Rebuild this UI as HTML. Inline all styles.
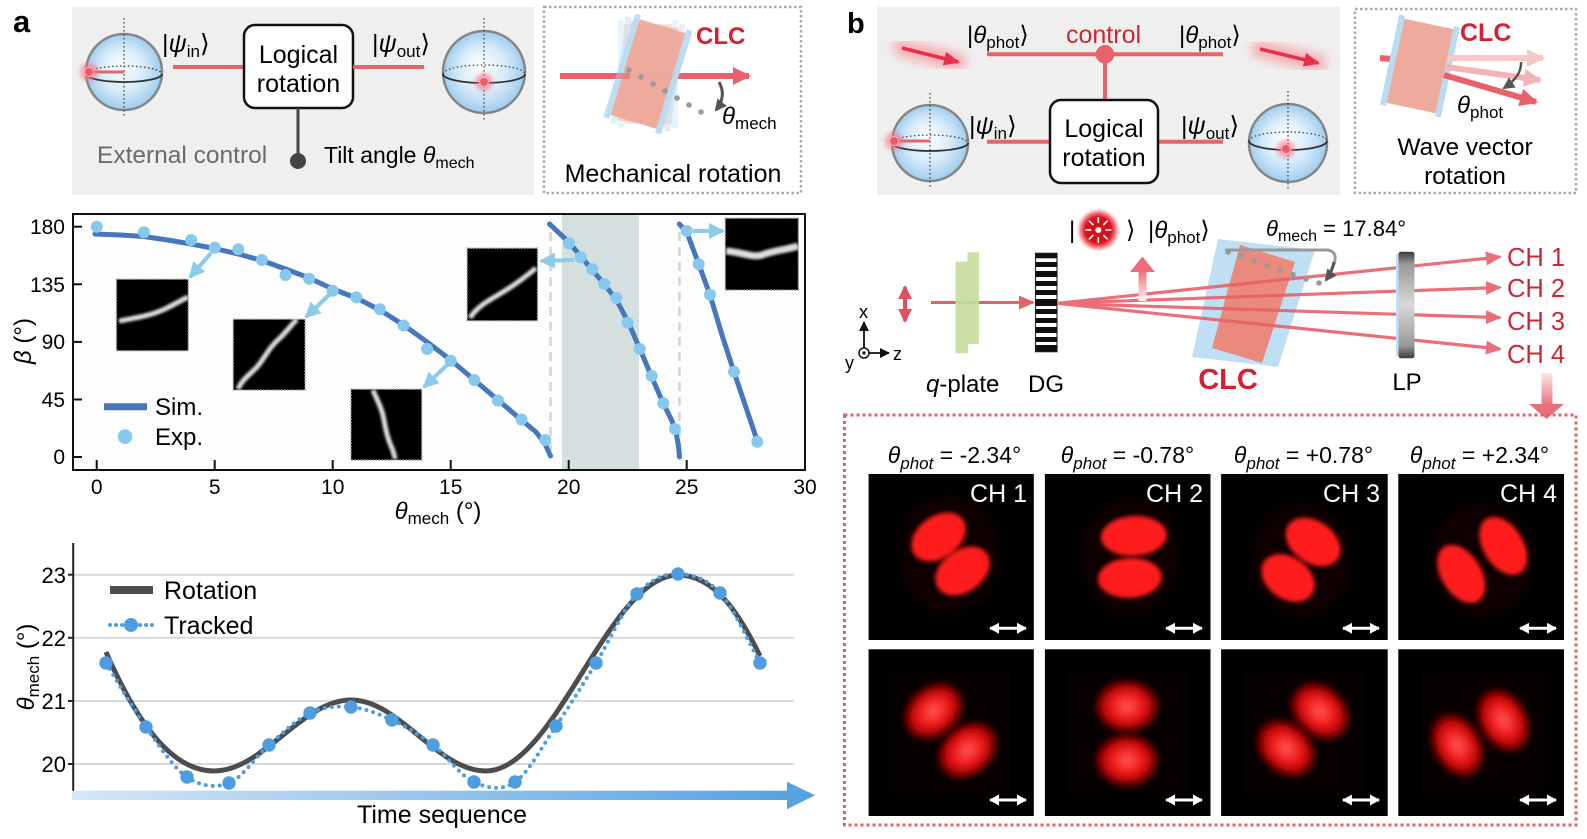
<!DOCTYPE html>
<html><head><meta charset="utf-8">
<style>
html,body{margin:0;padding:0;background:#fff;}
svg{display:block;font-family:"Liberation Sans","DejaVu Sans",sans-serif;}
</style></head><body>
<svg width="1587" height="839" viewBox="0 0 1587 839" xmlns="http://www.w3.org/2000/svg">
<defs>
 <radialGradient id="sph" cx="50%" cy="50%" r="50%" fx="45%" fy="42%">
  <stop offset="0" stop-color="#ffffff"/>
  <stop offset="0.55" stop-color="#d9ecfa"/>
  <stop offset="1" stop-color="#9ecdef"/>
 </radialGradient>
 <radialGradient id="lobeS" cx="50%" cy="50%" r="50%">
  <stop offset="0" stop-color="#ff5a5a"/>
  <stop offset="0.45" stop-color="#f01818"/>
  <stop offset="0.8" stop-color="#9a0000"/>
  <stop offset="1" stop-color="#200000" stop-opacity="0"/>
 </radialGradient>
 <radialGradient id="sun" cx="50%" cy="50%" r="50%">
  <stop offset="0" stop-color="#ff6060"/>
  <stop offset="0.6" stop-color="#e0101c"/>
  <stop offset="0.8" stop-color="#e83040" stop-opacity="0.6"/>
  <stop offset="1" stop-color="#ff8080" stop-opacity="0"/>
 </radialGradient>
 <filter id="b1" x="-50%" y="-50%" width="200%" height="200%"><feGaussianBlur stdDeviation="1.2"/></filter>
 <filter id="b2" x="-50%" y="-50%" width="200%" height="200%"><feGaussianBlur stdDeviation="2"/></filter>
 <filter id="b3" x="-50%" y="-50%" width="200%" height="200%"><feGaussianBlur stdDeviation="3.5"/></filter>
 <filter id="b5" x="-50%" y="-50%" width="200%" height="200%"><feGaussianBlur stdDeviation="5"/></filter>
 <linearGradient id="tarr" x1="0" y1="0" x2="1" y2="0">
  <stop offset="0" stop-color="#d4e8f8"/>
  <stop offset="1" stop-color="#58a2e2"/>
 </linearGradient>
 <linearGradient id="lp" x1="0" y1="0" x2="0" y2="1">
  <stop offset="0" stop-color="#3c3c3c"/>
  <stop offset="0.12" stop-color="#9a9a9a"/>
  <stop offset="0.5" stop-color="#d8d8d8"/>
  <stop offset="0.88" stop-color="#9a9a9a"/>
  <stop offset="1" stop-color="#3c3c3c"/>
 </linearGradient>
 <linearGradient id="down" x1="0" y1="0" x2="0" y2="1">
  <stop offset="0" stop-color="#fde6e8"/>
  <stop offset="1" stop-color="#e8707a"/>
 </linearGradient>
 <linearGradient id="up" x1="0" y1="1" x2="0" y2="0">
  <stop offset="0" stop-color="#fff0f0"/>
  <stop offset="1" stop-color="#ee6c76"/>
 </linearGradient>
 <marker id="mRed" markerUnits="userSpaceOnUse" markerWidth="16" markerHeight="14" refX="14" refY="7" orient="auto"><path d="M0,0 L16,7 L0,14 z" fill="#e8606a"/></marker>
 <marker id="mRedB" markerUnits="userSpaceOnUse" markerWidth="18" markerHeight="18" refX="16" refY="9" orient="auto"><path d="M0,0 L18,9 L0,18 z" fill="#e8606a"/></marker>
 <marker id="mPink" markerUnits="userSpaceOnUse" markerWidth="18" markerHeight="18" refX="16" refY="9" orient="auto"><path d="M0,0 L18,9 L0,18 z" fill="#f7c6c8"/></marker>
 <marker id="mPink2" markerUnits="userSpaceOnUse" markerWidth="18" markerHeight="18" refX="16" refY="9" orient="auto"><path d="M0,0 L18,9 L0,18 z" fill="#f3b4b8"/></marker>
 <marker id="mGlow" markerUnits="userSpaceOnUse" markerWidth="16" markerHeight="14" refX="14" refY="7" orient="auto"><path d="M0,0 L16,7 L0,14 z" fill="#e8304a"/></marker>
 <marker id="mBlue" markerUnits="userSpaceOnUse" markerWidth="16" markerHeight="16" refX="14" refY="8" orient="auto"><path d="M0,0 L16,8 L0,16 z" fill="#8ccbec"/></marker>
 <marker id="mGray" markerUnits="userSpaceOnUse" markerWidth="12" markerHeight="12" refX="10" refY="6" orient="auto"><path d="M0,0 L12,6 L0,12 z" fill="#555"/></marker>
 <marker id="mBlk" markerUnits="userSpaceOnUse" markerWidth="10" markerHeight="10" refX="9" refY="5" orient="auto"><path d="M0,0 L10,5 L0,10 z" fill="#111"/></marker>
 <marker id="mWhite" markerUnits="userSpaceOnUse" markerWidth="10" markerHeight="11" refX="9" refY="5.5" orient="auto"><path d="M0,0 L10,5.5 L0,11 z" fill="#fff"/></marker>
 <marker id="mWhiteS" markerUnits="userSpaceOnUse" markerWidth="10" markerHeight="11" refX="9" refY="5.5" orient="auto-start-reverse"><path d="M0,0 L10,5.5 L0,11 z" fill="#fff"/></marker>
 <marker id="mPol" markerUnits="userSpaceOnUse" markerWidth="14" markerHeight="14" refX="12" refY="7" orient="auto-start-reverse"><path d="M0,0 L14,7 L0,14 z" fill="#e0505e"/></marker>
</defs>

<!-- ================= PANEL A TOP ================= -->
<text x="13" y="32" font-size="31" font-weight="bold">a</text>
<rect x="72" y="7" width="462" height="188" fill="#efefef"/>

<g transform="translate(124,72)">
 <circle r="38" fill="url(#sph)" stroke="#858585" stroke-width="2.5"/>
 <line x1="0" y1="-54" x2="0" y2="46" stroke="#444" stroke-width="1.3" stroke-dasharray="1.5 2.5"/>
 <path d="M-38,2 A38,8 0 0 1 38,2" fill="none" stroke="#444" stroke-width="1.3" stroke-dasharray="1.5 2.5"/>
 <path d="M-38,2 A38,8 0 0 0 38,2" fill="none" stroke="#333" stroke-width="1.8"/>
 <line x1="-34" y1="0" x2="0" y2="0" stroke="#e5636b" stroke-width="3"/>
 <circle cx="-35" cy="0" r="9" fill="#ff7080" opacity="0.6" filter="url(#b2)"/>
 <circle cx="-35" cy="0" r="4.5" fill="#f05a64" stroke="#ffb4b8" stroke-width="1"/>
</g>
<text x="162" y="52" font-size="25">|<tspan font-style="italic">ψ</tspan><tspan font-size="17" dy="5">in</tspan><tspan dy="-5">⟩</tspan></text>
<line x1="173" y1="67" x2="244" y2="67" stroke="#e5636b" stroke-width="4"/>
<rect x="244" y="25" width="109" height="83" rx="11" fill="#fff" stroke="#111" stroke-width="2.5"/>
<text x="298.5" y="63" font-size="25" text-anchor="middle">Logical</text>
<text x="298.5" y="92" font-size="25" text-anchor="middle">rotation</text>
<line x1="353" y1="67" x2="424" y2="67" stroke="#e5636b" stroke-width="4"/>
<text x="372" y="52" font-size="25">|<tspan font-style="italic">ψ</tspan><tspan font-size="17" dy="5">out</tspan><tspan dy="-5">⟩</tspan></text>
<g transform="translate(484,72)">
 <circle r="41" fill="url(#sph)" stroke="#858585" stroke-width="2.5"/>
 <line x1="0" y1="-54" x2="0" y2="48" stroke="#444" stroke-width="1.3" stroke-dasharray="1.5 2.5"/>
 <path d="M-41,2 A41,9 0 0 1 41,2" fill="none" stroke="#444" stroke-width="1.3" stroke-dasharray="1.5 2.5"/>
 <path d="M-41,2 A41,9 0 0 0 41,2" fill="none" stroke="#333" stroke-width="1.8"/>
 <circle cx="0" cy="10" r="9" fill="#ff7080" opacity="0.6" filter="url(#b2)"/>
 <circle cx="0" cy="10" r="4.5" fill="#f05a64" stroke="#ffb4b8" stroke-width="1"/>
</g>
<line x1="298" y1="108" x2="298" y2="160" stroke="#444" stroke-width="3"/>
<circle cx="298" cy="161" r="8" fill="#444"/>
<text x="97" y="163" font-size="24.5" fill="#6a6a6a">External control</text>
<text x="324" y="163" font-size="23">Tilt angle <tspan font-style="italic">θ</tspan><tspan font-size="16" dy="5">mech</tspan></text>

<rect x="544" y="7" width="257" height="186" fill="none" stroke="#aaa" stroke-width="2.5" stroke-dasharray="2.5 2.5"/>
<line x1="560" y1="76" x2="749" y2="76" stroke="#e8606a" stroke-width="6" marker-end="url(#mRedB)"/>
<g transform="translate(648,74)">
 <g opacity="0.3">
  <rect x="-24" y="-50" width="48" height="100" fill="#f0a898"/>
  <rect x="-30" y="-54" width="6" height="108" fill="#b9dcf3"/>
  <rect x="24" y="-54" width="6" height="108" fill="#b9dcf3"/>
 </g>
 <g opacity="0.45" transform="rotate(8)">
  <rect x="-24" y="-50" width="48" height="100" fill="#f0a898"/>
  <rect x="-30" y="-54" width="6" height="108" fill="#b9dcf3"/>
  <rect x="24" y="-54" width="6" height="108" fill="#b9dcf3"/>
 </g>
 <g transform="rotate(17)" opacity="0.95">
  <rect x="-24" y="-50" width="48" height="100" fill="#eeaa9c"/>
  <rect x="-30" y="-54" width="6" height="108" fill="#b9dcf3"/>
  <rect x="24" y="-54" width="6" height="108" fill="#b9dcf3"/>
 </g>
</g>
<line x1="560" y1="76" x2="630" y2="76" stroke="#e8606a" stroke-width="6" opacity="0.6"/>
<g fill="#9a9a9a">
 <circle cx="629" cy="70" r="2.8"/><circle cx="641" cy="77" r="2.8"/><circle cx="653" cy="84" r="2.8"/>
 <circle cx="665" cy="91" r="2.8"/><circle cx="677" cy="98" r="2.8"/><circle cx="689" cy="105" r="2.8"/>
 <circle cx="701" cy="112" r="2.8"/>
</g>
<path d="M719,82 Q727,96 716,110" fill="none" stroke="#555" stroke-width="3" marker-end="url(#mGray)"/>
<text x="696" y="44" font-size="24" font-weight="bold" fill="#d42030">CLC</text>
<text x="722" y="124" font-size="24"><tspan font-style="italic">θ</tspan><tspan font-size="17" dy="5">mech</tspan></text>
<text x="673" y="182" font-size="25" text-anchor="middle">Mechanical rotation</text>

<!-- ================= PLOT 1 ================= -->
<rect x="73" y="214" width="732" height="256" fill="#fdfdfd"/>
<rect x="562" y="215" width="77" height="254" fill="#d4dfdf"/>
<line x1="550.5" y1="232" x2="550.5" y2="458" stroke="#d4d4d4" stroke-width="2.5" stroke-dasharray="9 6"/>
<line x1="679.5" y1="232" x2="679.5" y2="458" stroke="#d4d4d4" stroke-width="2.5" stroke-dasharray="9 6"/>
<rect x="73" y="214" width="732" height="256" fill="none" stroke="#111" stroke-width="2"/>
<g stroke="#111" stroke-width="2">
 <line x1="73" y1="226.7" x2="82" y2="226.7"/><line x1="73" y1="284.3" x2="82" y2="284.3"/>
 <line x1="73" y1="341.9" x2="82" y2="341.9"/><line x1="73" y1="399.5" x2="82" y2="399.5"/>
 <line x1="73" y1="457" x2="82" y2="457"/>
 <line x1="96.7" y1="470" x2="96.7" y2="460"/><line x1="214.7" y1="470" x2="214.7" y2="460"/>
 <line x1="332.7" y1="470" x2="332.7" y2="460"/><line x1="450.7" y1="470" x2="450.7" y2="460"/>
 <line x1="568.7" y1="470" x2="568.7" y2="460"/><line x1="686.7" y1="470" x2="686.7" y2="460"/>
</g>
<g font-size="21" text-anchor="end">
 <text x="65" y="234">180</text><text x="65" y="292">135</text><text x="65" y="349">90</text>
 <text x="65" y="407">45</text><text x="65" y="464">0</text>
</g>
<g font-size="21" text-anchor="middle">
 <text x="96.7" y="494">0</text><text x="214.7" y="494">5</text><text x="332.7" y="494">10</text>
 <text x="450.7" y="494">15</text><text x="568.7" y="494">20</text><text x="686.7" y="494">25</text>
 <text x="805" y="494">30</text>
</g>
<text x="438" y="519" font-size="24" text-anchor="middle"><tspan font-style="italic">θ</tspan><tspan font-size="17" dy="5">mech</tspan><tspan dy="-5"> (°)</tspan></text>
<text transform="translate(31,341) rotate(-90)" font-size="24" text-anchor="middle"><tspan font-style="italic">β</tspan> (°)</text>

<g fill="none" stroke="#4677bd" stroke-width="5" stroke-linejoin="round" stroke-linecap="round">
 <polyline points="95,234 120.3,235 143.9,236.5 167.5,240 191.1,244 214.7,248.5 238.3,254 261.9,260.5 285.5,269 309.1,278 332.7,289 356.3,298 379.9,310 403.5,325 427.1,342 450.7,360 474.3,380 497.9,400 521.5,420 536,432 545.1,444 550.5,456"/>
 <polyline points="549.5,224 568.7,242 580.5,256 592.3,270 604.1,284 615.9,299 627.7,321 639.5,348 651.3,376 663.1,403 672,421 676.5,435 678.5,446 679.5,457"/>
 <polyline points="679.3,224 686.7,232 698.7,264 710,295 722,335 734,372 745.5,406 757.3,441"/>
</g>
<g>
 <rect x="116.5" y="279.3" width="71.7" height="71.4" fill="#000" stroke="#999" stroke-width="1.5" stroke-dasharray="1.5 1.5"/>
 <path d="M119,321 C135,318 150,316 165,309 C175,304 182,300 188,297" fill="none" stroke="#ddd" stroke-width="5" filter="url(#b1)"/>
 <rect x="233.3" y="319.3" width="71.7" height="70.7" fill="#000" stroke="#999" stroke-width="1.5" stroke-dasharray="1.5 1.5"/>
 <path d="M238,389 C242,380 248,376 256,368 C264,360 268,348 280,338 C288,330 292,324 297,319.5" fill="none" stroke="#ddd" stroke-width="5" filter="url(#b1)"/>
 <rect x="351" y="389.3" width="70.7" height="70.7" fill="#000" stroke="#999" stroke-width="1.5" stroke-dasharray="1.5 1.5"/>
 <path d="M373,390 C377,400 382,408 384,420 C386,432 388,440 392,448 C394,454 395,458 395,459" fill="none" stroke="#ddd" stroke-width="5" filter="url(#b1)"/>
 <rect x="467.2" y="248.3" width="70.3" height="72.4" fill="#000" stroke="#999" stroke-width="1.5" stroke-dasharray="1.5 1.5"/>
 <path d="M470,318 C476,308 486,302 498,295 C510,288 522,280 536,268" fill="none" stroke="#ddd" stroke-width="5" filter="url(#b1)"/>
 <rect x="725.3" y="218.3" width="73" height="71.7" fill="#000" stroke="#999" stroke-width="1.5" stroke-dasharray="1.5 1.5"/>
 <path d="M726,251 C742,252 752,258 762,255 C775,250 786,250 798,246" fill="none" stroke="#ddd" stroke-width="7" filter="url(#b1)"/>
</g>
<g stroke="#8ccbec" stroke-width="4" fill="none">
 <line x1="211" y1="253" x2="190" y2="277" marker-end="url(#mBlue)"/>
 <line x1="329" y1="295" x2="306" y2="317" marker-end="url(#mBlue)"/>
 <line x1="447" y1="365" x2="424" y2="387" marker-end="url(#mBlue)"/>
 <line x1="574" y1="260" x2="541" y2="261" marker-end="url(#mBlue)"/>
 <line x1="693" y1="231" x2="723" y2="231" marker-end="url(#mBlue)"/>
</g>
<g fill="#87c9ec">
 <circle cx="96.7" cy="226.7" r="6"/><circle cx="143.9" cy="232.3" r="6"/><circle cx="191.1" cy="240" r="6"/>
 <circle cx="214.7" cy="247.7" r="6"/><circle cx="238.3" cy="249.3" r="6"/><circle cx="261.9" cy="260" r="6"/>
 <circle cx="285.5" cy="275" r="6"/><circle cx="309.1" cy="278.7" r="6"/><circle cx="332.7" cy="290.7" r="6"/>
 <circle cx="356.3" cy="297.3" r="6"/><circle cx="379.9" cy="309.3" r="6"/><circle cx="403.5" cy="325.5" r="6"/>
 <circle cx="427.1" cy="349" r="6"/><circle cx="450.7" cy="360.7" r="6"/><circle cx="474.3" cy="380" r="6"/>
 <circle cx="497.9" cy="400.5" r="6"/><circle cx="521.5" cy="419.5" r="6"/><circle cx="545.3" cy="440" r="6"/>
 <circle cx="569" cy="243.3" r="6"/><circle cx="580.7" cy="257.3" r="6"/><circle cx="592.3" cy="269.3" r="6"/>
 <circle cx="604.3" cy="284" r="6"/><circle cx="616.3" cy="298" r="6"/><circle cx="627.7" cy="322.7" r="6"/>
 <circle cx="639.7" cy="349" r="6"/><circle cx="651.7" cy="376" r="6"/><circle cx="663.3" cy="403.3" r="6"/>
 <circle cx="675" cy="429" r="6"/>
 <circle cx="686.7" cy="231" r="6"/><circle cx="698.7" cy="264.3" r="6"/><circle cx="710" cy="294.7" r="6"/>
 <circle cx="734" cy="371.7" r="6"/><circle cx="757.3" cy="441.7" r="6"/>
</g>
<line x1="104" y1="406.7" x2="147" y2="406.7" stroke="#4677bd" stroke-width="7"/>
<text x="155" y="415" font-size="24">Sim.</text>
<circle cx="125" cy="436.7" r="7.3" fill="#87c9ec"/>
<text x="155" y="445" font-size="24">Exp.</text>

<!-- ================= PLOT 2 ================= -->
<g stroke="#d9d9d9" stroke-width="2">
 <line x1="74" y1="574.7" x2="794" y2="574.7"/><line x1="74" y1="637.8" x2="794" y2="637.8"/>
 <line x1="74" y1="701" x2="794" y2="701"/><line x1="74" y1="764" x2="794" y2="764"/>
</g>
<line x1="73.2" y1="543" x2="73.2" y2="791" stroke="#222" stroke-width="2"/>
<g stroke="#222" stroke-width="2">
 <line x1="68" y1="574.7" x2="73" y2="574.7"/><line x1="68" y1="637.8" x2="73" y2="637.8"/>
 <line x1="68" y1="701" x2="73" y2="701"/><line x1="68" y1="764" x2="73" y2="764"/>
</g>
<g font-size="22" text-anchor="end">
 <text x="66" y="583">23</text><text x="66" y="646">22</text><text x="66" y="709">21</text><text x="66" y="772">20</text>
</g>
<text transform="translate(34,667) rotate(-90)" font-size="24" text-anchor="middle"><tspan font-style="italic">θ</tspan><tspan font-size="17" dy="5">mech</tspan><tspan dy="-5"> (°)</tspan></text>
<path d="M106,652 C140,730 175,771 214,771 C263,771 302,700 351,700 C400,700 437,771 486,771 C555,771 609,575 678,575 C715,575 740,615 760,656" fill="none" stroke="#4d4d4d" stroke-width="5"/>
<path d="M106,663 C112.7,673.7 132.5,708 146,727 C159.5,746 173.2,767.7 187,777 C200.8,786.3 215.3,788.3 229,783 C242.7,777.7 255.5,756.7 269,745 C282.5,733.3 296.3,719.3 310,713 C323.7,706.7 337.3,705.8 351,707 C364.7,708.2 378.3,713.7 392,720 C405.7,726.3 419.3,734.7 433,745 C446.7,755.3 460.3,775.8 474,782 C487.7,788.2 501.3,791.3 515,782 C528.7,772.7 542.5,745.8 556,726 C569.5,706.2 582.5,685 596,663 C609.5,641 623.3,608.8 637,594 C650.7,579.2 664.2,573.8 678,574 C691.8,574.2 706.3,578.2 720,593 C733.7,607.8 753.3,651.3 760,663" fill="none" stroke="#4d9de0" stroke-width="4" stroke-dasharray="0 7" stroke-linecap="round"/>
<g fill="#4d9de0">
 <circle cx="106" cy="663" r="6.7"/><circle cx="146" cy="727" r="6.7"/><circle cx="187" cy="777" r="6.7"/>
 <circle cx="229" cy="783" r="6.7"/><circle cx="269" cy="745" r="6.7"/><circle cx="310" cy="713" r="6.7"/>
 <circle cx="351" cy="707" r="6.7"/><circle cx="392" cy="720" r="6.7"/><circle cx="433" cy="745" r="6.7"/>
 <circle cx="474" cy="782" r="6.7"/><circle cx="515" cy="782" r="6.7"/><circle cx="556" cy="726" r="6.7"/>
 <circle cx="596" cy="663" r="6.7"/><circle cx="637" cy="594" r="6.7"/><circle cx="678" cy="574" r="6.7"/>
 <circle cx="720" cy="593" r="6.7"/><circle cx="760" cy="663" r="6.7"/>
</g>
<line x1="110" y1="590" x2="153" y2="590" stroke="#4d4d4d" stroke-width="8"/>
<text x="164" y="599" font-size="25">Rotation</text>
<line x1="110" y1="625" x2="153" y2="625" stroke="#4d9de0" stroke-width="4" stroke-dasharray="0 6" stroke-linecap="round"/>
<circle cx="131" cy="625" r="7" fill="#4d9de0"/>
<text x="164" y="634" font-size="25">Tracked</text>
<rect x="72" y="790.7" width="716" height="9.3" fill="url(#tarr)"/>
<polygon points="787,781.7 815,795.3 787,809.3" fill="#58a2e2"/>
<text x="442" y="823" font-size="25" text-anchor="middle">Time sequence</text>

<!-- ================= PANEL B TOP ================= -->
<text x="847" y="33" font-size="29" font-weight="bold">b</text>
<rect x="877" y="7" width="463" height="188" fill="#efefef"/>
<line x1="902" y1="48" x2="958" y2="62" stroke="#ff7a86" stroke-width="18" opacity="0.55" filter="url(#b5)" stroke-linecap="round"/>
<line x1="902" y1="48" x2="958" y2="62" stroke="#e8304a" stroke-width="3.5" marker-end="url(#mGlow)"/>
<line x1="1260" y1="49" x2="1318" y2="63" stroke="#ff7a86" stroke-width="18" opacity="0.55" filter="url(#b5)" stroke-linecap="round"/>
<line x1="1260" y1="49" x2="1318" y2="63" stroke="#e8304a" stroke-width="3.5" marker-end="url(#mGlow)"/>
<line x1="987" y1="54.3" x2="1223" y2="54.3" stroke="#e5636b" stroke-width="4"/>
<line x1="1105" y1="54.3" x2="1105" y2="100" stroke="#e5636b" stroke-width="4"/>
<circle cx="1105" cy="54.3" r="9.3" fill="#e5636b"/>
<line x1="987" y1="141.7" x2="1050" y2="141.7" stroke="#e5636b" stroke-width="4"/>
<line x1="1158" y1="141.7" x2="1223" y2="141.7" stroke="#e5636b" stroke-width="4"/>
<text x="967" y="43" font-size="24">|<tspan font-style="italic">θ</tspan><tspan font-size="17" dy="5">phot</tspan><tspan dy="-5">⟩</tspan></text>
<text x="1066" y="43" font-size="25" fill="#c92836">control</text>
<text x="1179" y="43" font-size="24">|<tspan font-style="italic">θ</tspan><tspan font-size="17" dy="5">phot</tspan><tspan dy="-5">⟩</tspan></text>
<rect x="1050" y="100" width="108" height="83" rx="11" fill="#fff" stroke="#111" stroke-width="2.5"/>
<text x="1104" y="137" font-size="25" text-anchor="middle">Logical</text>
<text x="1104" y="166" font-size="25" text-anchor="middle">rotation</text>
<text x="969" y="134" font-size="25">|<tspan font-style="italic">ψ</tspan><tspan font-size="17" dy="5">in</tspan><tspan dy="-5">⟩</tspan></text>
<text x="1181" y="134" font-size="25">|<tspan font-style="italic">ψ</tspan><tspan font-size="17" dy="5">out</tspan><tspan dy="-5">⟩</tspan></text>
<g transform="translate(930,143)">
 <circle r="38" fill="url(#sph)" stroke="#858585" stroke-width="2.5"/>
 <line x1="0" y1="-50" x2="0" y2="46" stroke="#444" stroke-width="1.3" stroke-dasharray="1.5 2.5"/>
 <path d="M-38,0 A38,8 0 0 1 38,0" fill="none" stroke="#444" stroke-width="1.3" stroke-dasharray="1.5 2.5"/>
 <path d="M-38,0 A38,8 0 0 0 38,0" fill="none" stroke="#333" stroke-width="1.8"/>
 <line x1="-35" y1="-2" x2="0" y2="-2" stroke="#e5636b" stroke-width="3"/>
 <circle cx="-36" cy="-2" r="9" fill="#ff7080" opacity="0.6" filter="url(#b2)"/>
 <circle cx="-36" cy="-2" r="4.5" fill="#f05a64" stroke="#ffb4b8" stroke-width="1"/>
</g>
<g transform="translate(1288,143)">
 <circle r="39" fill="url(#sph)" stroke="#858585" stroke-width="2.5"/>
 <line x1="0" y1="-52" x2="0" y2="46" stroke="#444" stroke-width="1.3" stroke-dasharray="1.5 2.5"/>
 <path d="M-39,-2 A39,9 0 0 1 39,-2" fill="none" stroke="#444" stroke-width="1.3" stroke-dasharray="1.5 2.5"/>
 <path d="M-39,-2 A39,9 0 0 0 39,-2" fill="none" stroke="#333" stroke-width="1.8"/>
 <circle cx="-2" cy="6" r="9" fill="#ff7080" opacity="0.6" filter="url(#b2)"/>
 <circle cx="-2" cy="6" r="4.5" fill="#f05a64" stroke="#ffb4b8" stroke-width="1"/>
</g>

<rect x="1355" y="9" width="221" height="184" fill="none" stroke="#aaa" stroke-width="2.5" stroke-dasharray="2.5 2.5"/>
<line x1="1380" y1="58" x2="1412" y2="61" stroke="#e8606a" stroke-width="6"/>
<g transform="translate(1420,66) rotate(12)">
 <rect x="-25" y="-43" width="50" height="86" fill="#eeaa9c"/>
 <rect x="-31" y="-46" width="6" height="92" fill="#b9dcf3"/>
 <rect x="25" y="-46" width="6" height="92" fill="#b9dcf3"/>
</g>
<line x1="1448" y1="58" x2="1543" y2="58" stroke="#f7c6c8" stroke-width="6" marker-end="url(#mPink)"/>
<line x1="1446" y1="67" x2="1540" y2="80" stroke="#f3b4b8" stroke-width="6" marker-end="url(#mPink2)"/>
<line x1="1444" y1="75" x2="1536" y2="102" stroke="#e8606a" stroke-width="6" marker-end="url(#mRedB)"/>
<path d="M1521,62 Q1522,76 1504,88" fill="none" stroke="#555" stroke-width="2.5" marker-end="url(#mGray)"/>
<text x="1460" y="41" font-size="25" font-weight="bold" fill="#d42030">CLC</text>
<text x="1457" y="113" font-size="24"><tspan font-style="italic">θ</tspan><tspan font-size="17" dy="5">phot</tspan></text>
<text x="1465" y="155" font-size="24.5" text-anchor="middle">Wave vector</text>
<text x="1465" y="184" font-size="24.5" text-anchor="middle">rotation</text>

<!-- ================= PANEL B MIDDLE ================= -->
<line x1="864" y1="348" x2="864" y2="322" stroke="#111" stroke-width="1.8" marker-end="url(#mBlk)"/>
<line x1="869" y1="353" x2="889" y2="353" stroke="#111" stroke-width="1.8" marker-end="url(#mBlk)"/>
<circle cx="864" cy="353" r="5" fill="#fff" stroke="#111" stroke-width="1.5"/>
<circle cx="864" cy="353" r="1.6" fill="#111"/>
<text x="859" y="318" font-size="18">x</text>
<text x="893" y="360" font-size="18">z</text>
<text x="845" y="369" font-size="18">y</text>
<line x1="905" y1="287" x2="905" y2="321" stroke="#e0505e" stroke-width="4" marker-start="url(#mPol)" marker-end="url(#mPol)"/>
<line x1="931" y1="302.5" x2="1033" y2="302.5" stroke="#e8606a" stroke-width="3" marker-end="url(#mRed)"/>
<rect x="955.5" y="261.7" width="12.5" height="91.6" fill="#c6dd9c" opacity="0.9"/>
<rect x="967.5" y="252.3" width="11.5" height="91.7" fill="#c6dd9c" opacity="0.9"/>
<rect x="1035.5" y="253.3" width="21.5" height="98.4" fill="#fff" stroke="#333" stroke-width="1.2"/>
<g fill="#111">
 <rect x="1035.5" y="253.3" width="21.5" height="5"/><rect x="1035.5" y="262" width="21.5" height="5"/>
 <rect x="1035.5" y="271" width="21.5" height="6"/><rect x="1035.5" y="281" width="21.5" height="5"/>
 <rect x="1035.5" y="290" width="21.5" height="5"/><rect x="1035.5" y="299" width="21.5" height="7"/>
 <rect x="1035.5" y="309" width="21.5" height="5"/><rect x="1035.5" y="318" width="21.5" height="5"/>
 <rect x="1035.5" y="327" width="21.5" height="6"/><rect x="1035.5" y="337" width="21.5" height="5"/>
 <rect x="1035.5" y="345" width="21.5" height="6.7"/>
</g>
<polygon points="1218,239 1315,250 1278,367 1192,357" fill="#bfe0f4"/>
<polygon points="1240,245 1295,262 1262,363 1212,348" fill="#ea8a7c"/>
<g stroke="#e8606a" stroke-width="3.2" fill="none" opacity="0.9">
 <line x1="1057" y1="303.3" x2="1500" y2="256.9" marker-end="url(#mRed)"/>
 <line x1="1057" y1="303.3" x2="1500" y2="287.5" marker-end="url(#mRed)"/>
 <line x1="1057" y1="303.3" x2="1500" y2="317.6" marker-end="url(#mRed)"/>
 <line x1="1057" y1="303.3" x2="1500" y2="349" marker-end="url(#mRed)"/>
</g>
<path d="M1225,250 L1328,250 Q1338,252 1334,264 Q1331,272 1326,279" fill="none" stroke="#999" stroke-width="3"/>
<path d="M1334,262 Q1332,272 1326,280" fill="none" stroke="#555" stroke-width="3" marker-end="url(#mGray)"/>
<g fill="#999">
 <circle cx="1228" cy="252" r="2.8"/><circle cx="1241" cy="256.5" r="2.8"/><circle cx="1254" cy="261" r="2.8"/>
 <circle cx="1267" cy="265.5" r="2.8"/><circle cx="1280" cy="270" r="2.8"/><circle cx="1293" cy="274.5" r="2.8"/>
 <circle cx="1306" cy="279" r="2.8"/><circle cx="1319" cy="283" r="2.8"/>
</g>
<text x="1266" y="236" font-size="22"><tspan font-style="italic">θ</tspan><tspan font-size="16" dy="5">mech</tspan><tspan dy="-5"> = 17.84°</tspan></text>
<text x="1069" y="238" font-size="24">|</text>
<circle cx="1098.3" cy="230" r="22" fill="url(#sun)"/>
<circle cx="1098.3" cy="230" r="13" fill="#d8101c"/>
<g stroke="#fff" stroke-width="1.6">
 <line x1="1098.3" y1="217" x2="1098.3" y2="223"/><line x1="1098.3" y1="237" x2="1098.3" y2="243"/>
 <line x1="1085.3" y1="230" x2="1091.3" y2="230"/><line x1="1105.3" y1="230" x2="1111.3" y2="230"/>
 <line x1="1089" y1="220.7" x2="1093.3" y2="225"/><line x1="1103.3" y1="235" x2="1107.6" y2="239.3"/>
 <line x1="1107.6" y1="220.7" x2="1103.3" y2="225"/><line x1="1093.3" y1="235" x2="1089" y2="239.3"/>
</g>
<circle cx="1098.3" cy="230" r="3" fill="#fff"/>
<text x="1126" y="238" font-size="24">⟩</text>
<text x="1148" y="238" font-size="24">|<tspan font-style="italic">θ</tspan><tspan font-size="17" dy="5">phot</tspan><tspan dy="-5">⟩</tspan></text>
<rect x="1138.5" y="270" width="8" height="31" fill="url(#up)"/>
<polygon points="1130,272 1142.5,256.5 1155,272" fill="#ee6c76"/>
<rect x="1396" y="254" width="3" height="102" fill="#bfe0f4"/>
<rect x="1398.5" y="251.7" width="16" height="106.6" rx="2.5" fill="url(#lp)"/>
<text x="926" y="392" font-size="24"><tspan font-style="italic">q</tspan>-plate</text>
<text x="1046" y="392" font-size="24" text-anchor="middle">DG</text>
<text x="1228" y="389" font-size="29" font-weight="bold" fill="#d42030" text-anchor="middle">CLC</text>
<text x="1407" y="390" font-size="24" text-anchor="middle">LP</text>
<g font-size="25.5" fill="#c92836">
 <text x="1507" y="266">CH 1</text><text x="1507" y="297">CH 2</text>
 <text x="1507" y="330">CH 3</text><text x="1507" y="363">CH 4</text>
</g>
<rect x="1541.5" y="373" width="11" height="33" fill="url(#down)"/>
<polygon points="1529,404 1564,404 1546.5,419" fill="#e8707a"/>

<!-- ================= IMAGE GRID ================= -->
<rect x="844.5" y="415" width="731.5" height="410" fill="none" stroke="#e0606a" stroke-width="3" stroke-dasharray="3 3"/>
<g font-size="23" text-anchor="middle">
 <text x="954.5" y="463"><tspan font-style="italic">θ</tspan><tspan font-size="17" font-style="italic" dy="6">phot</tspan><tspan dy="-6"> = -2.34°</tspan></text>
 <text x="1127.5" y="463"><tspan font-style="italic">θ</tspan><tspan font-size="17" font-style="italic" dy="6">phot</tspan><tspan dy="-6"> = -0.78°</tspan></text>
 <text x="1303.5" y="463"><tspan font-style="italic">θ</tspan><tspan font-size="17" font-style="italic" dy="6">phot</tspan><tspan dy="-6"> = +0.78°</tspan></text>
 <text x="1479.5" y="463"><tspan font-style="italic">θ</tspan><tspan font-size="17" font-style="italic" dy="6">phot</tspan><tspan dy="-6"> = +2.34°</tspan></text>
</g>
<g>
 <rect x="868.6" y="474" width="165.2" height="166" fill="#000"/>
 <rect x="1044.9" y="474" width="165.6" height="166" fill="#000"/>
 <rect x="1221.1" y="474" width="166.6" height="166" fill="#000"/>
 <rect x="1398.3" y="474" width="165.7" height="166" fill="#000"/>
 <rect x="868.6" y="649.3" width="165.2" height="166.7" fill="#000"/>
 <rect x="1044.9" y="649.3" width="165.6" height="166.7" fill="#000"/>
 <rect x="1221.1" y="649.3" width="166.6" height="166.7" fill="#000"/>
 <rect x="1398.3" y="649.3" width="165.7" height="166.7" fill="#000"/>
</g>
<g fill="#ff1c1c">
 <g transform="translate(868.6,474)">
  <ellipse cx="80" cy="80" rx="52" ry="60" fill="#3a0000" opacity="0.25" filter="url(#b5)"/>
  <ellipse transform="translate(70,63) rotate(-36)" rx="30" ry="21" filter="url(#b2)"/>
  <ellipse transform="translate(94,97) rotate(-36)" rx="30" ry="21" filter="url(#b2)"/>
 </g>
 <g transform="translate(1044.9,474)">
  <ellipse cx="86" cy="82" rx="50" ry="60" fill="#3a0000" opacity="0.25" filter="url(#b5)"/>
  <ellipse transform="translate(89,62) rotate(-3)" rx="33" ry="20" filter="url(#b2)"/>
  <ellipse transform="translate(85,104) rotate(-3)" rx="32" ry="20" filter="url(#b2)"/>
 </g>
 <g transform="translate(1221.1,474)">
  <ellipse cx="80" cy="86" rx="50" ry="58" fill="#3a0000" opacity="0.25" filter="url(#b5)"/>
  <ellipse transform="translate(92,68) rotate(35)" rx="30" ry="21" filter="url(#b2)"/>
  <ellipse transform="translate(67,104) rotate(35)" rx="29" ry="21" filter="url(#b2)"/>
 </g>
 <g transform="translate(1398.3,474)">
  <ellipse cx="84" cy="86" rx="52" ry="58" fill="#3a0000" opacity="0.25" filter="url(#b5)"/>
  <ellipse transform="translate(105,72) rotate(58)" rx="32" ry="20" filter="url(#b2)"/>
  <ellipse transform="translate(63,100) rotate(58)" rx="32" ry="20" filter="url(#b2)"/>
 </g>
</g>
<g fill="url(#lobeS)">
 <g transform="translate(868.6,649.3)">
  <rect x="22" y="22" width="122" height="122" fill="#070000"/>
  <ellipse transform="translate(65,62) rotate(-40)" rx="35" ry="27" filter="url(#b3)"/>
  <ellipse transform="translate(99,101) rotate(-40)" rx="35" ry="27" filter="url(#b3)"/>
 </g>
 <g transform="translate(1044.9,649.3)">
  <rect x="22" y="22" width="122" height="122" fill="#070000"/>
  <ellipse transform="translate(82,57)" rx="34" ry="28" filter="url(#b3)"/>
  <ellipse transform="translate(82,111)" rx="34" ry="28" filter="url(#b3)"/>
 </g>
 <g transform="translate(1221.1,649.3)">
  <rect x="22" y="22" width="122" height="122" fill="#070000"/>
  <ellipse transform="translate(99,62) rotate(42)" rx="35" ry="27" filter="url(#b3)"/>
  <ellipse transform="translate(65,99) rotate(42)" rx="35" ry="27" filter="url(#b3)"/>
 </g>
 <g transform="translate(1398.3,649.3)">
  <rect x="22" y="22" width="122" height="122" fill="#070000"/>
  <ellipse transform="translate(105,71) rotate(61)" rx="36" ry="26" filter="url(#b3)"/>
  <ellipse transform="translate(59,96) rotate(61)" rx="36" ry="26" filter="url(#b3)"/>
 </g>
</g>
<g font-size="25" fill="#fff" text-anchor="end">
 <text x="1027" y="502">CH 1</text><text x="1203" y="502">CH 2</text>
 <text x="1380" y="502">CH 3</text><text x="1557" y="502">CH 4</text>
</g>
<g stroke="#fff" stroke-width="3">
 <line x1="990" y1="628.3" x2="1026" y2="628.3" marker-start="url(#mWhiteS)" marker-end="url(#mWhite)"/>
 <line x1="1166" y1="628.3" x2="1202" y2="628.3" marker-start="url(#mWhiteS)" marker-end="url(#mWhite)"/>
 <line x1="1343" y1="628.3" x2="1379" y2="628.3" marker-start="url(#mWhiteS)" marker-end="url(#mWhite)"/>
 <line x1="1520" y1="628.3" x2="1556" y2="628.3" marker-start="url(#mWhiteS)" marker-end="url(#mWhite)"/>
 <line x1="990" y1="800" x2="1026" y2="800" marker-start="url(#mWhiteS)" marker-end="url(#mWhite)"/>
 <line x1="1166" y1="800" x2="1202" y2="800" marker-start="url(#mWhiteS)" marker-end="url(#mWhite)"/>
 <line x1="1343" y1="800" x2="1379" y2="800" marker-start="url(#mWhiteS)" marker-end="url(#mWhite)"/>
 <line x1="1520" y1="800" x2="1556" y2="800" marker-start="url(#mWhiteS)" marker-end="url(#mWhite)"/>
</g>
</svg>
</body></html>
